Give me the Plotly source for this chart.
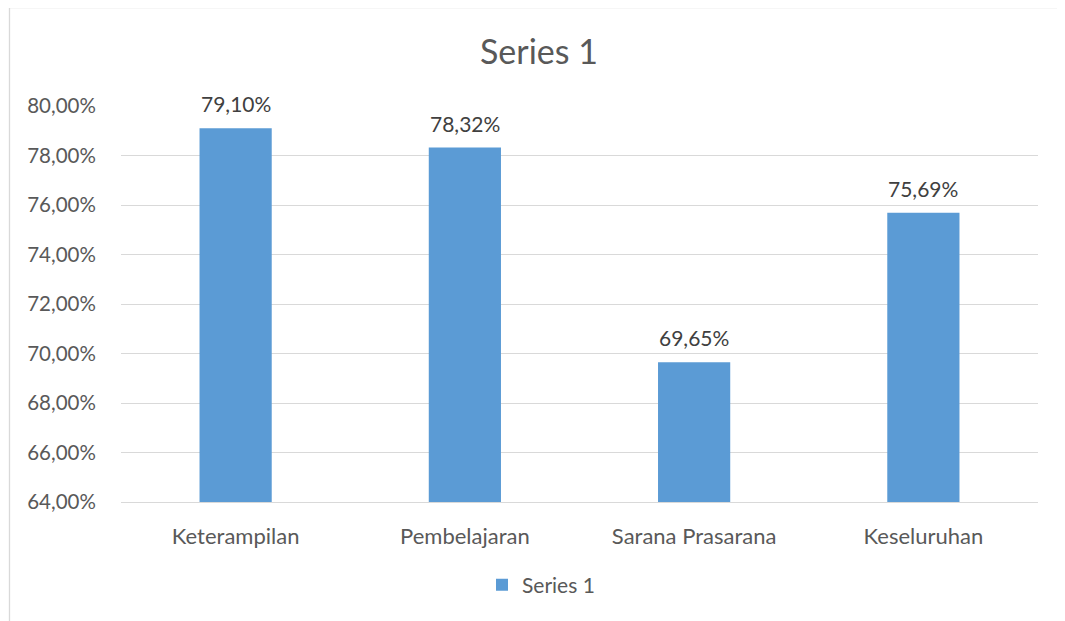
import plotly.graph_objects as go

categories = ["Keterampilan", "Pembelajaran", "Sarana Prasarana", "Keseluruhan"]
values = [0.7910, 0.7832, 0.6965, 0.7569]
series_name = "Series 1"

OFF = 8  # browser body margin
W, H = 1065 - OFF, 621 - OFF
L, T = 121 - OFF, 106 - OFF
R = W - (1038 - OFF)
B = H - (502 - OFF)
pw, ph = W - L - R, H - T - B

def px_x(p):
    return (p - OFF - L) / pw

def px_y(p):
    return (H - B - (p - OFF)) / ph

font_fam = "Lato, Open Sans, sans-serif"
txt = "#595959"

fig = go.Figure()
fig.add_trace(go.Bar(
    x=categories, y=values, name=series_name,
    marker=dict(color="#5b9bd5", line=dict(width=0)),
    width=0.315,
))

for c, v in zip(categories, values):
    fig.add_annotation(x=c, y=v, xref="x", yref="y",
                       text=f"{v * 100:.2f}%".replace(".", ","),
                       showarrow=False, yanchor="bottom", yshift=10,
                       font=dict(size=21, color="#404040", family=font_fam))

fig.update_layout(
    width=W, height=H,
    margin=dict(l=L, r=R, t=T, b=B),
    paper_bgcolor="white", plot_bgcolor="white",
    separators=",.",
    showlegend=True,
    title=dict(text=series_name, x=px_x(539), xanchor="center", xref="paper",
               y=1 - (52 - OFF) / H, yanchor="middle",
               font=dict(size=34, color=txt, family=font_fam)),
    legend=dict(orientation="h", x=px_x(482), xanchor="left", y=px_y(585), yanchor="middle",
                font=dict(size=21, color=txt, family=font_fam), itemwidth=30),
    font=dict(family=font_fam, color=txt),
)
fig.update_yaxes(range=[0.64, 0.80], tickvals=[0.64, 0.66, 0.68, 0.70, 0.72, 0.74, 0.76, 0.78, 0.80],
                 tickformat=".2%", showgrid=True, gridcolor="#d9d9d9", gridwidth=1.3,
                 zeroline=False, showline=False,
                 ticks="outside", ticklen=20, tickcolor="rgba(0,0,0,0)",
                 tickfont=dict(size=20.5, color=txt, family=font_fam))
fig.update_xaxes(showline=True, linecolor="#d9d9d9", linewidth=1.3,
                 ticks="outside", ticklen=14, tickcolor="rgba(0,0,0,0)",
                 tickfont=dict(size=22, color=txt, family=font_fam))

border = dict(color="#d9d9d9", width=1.3)
fig.add_shape(type="line", xref="paper", yref="paper",
              x0=px_x(9.5), x1=px_x(1080), y0=px_y(7.5), y1=px_y(7.5), line=border, layer="below")
fig.add_shape(type="line", xref="paper", yref="paper",
              x0=px_x(9.5), x1=px_x(9.5), y0=px_y(7.5), y1=px_y(640), line=border, layer="below")

fig.write_html("out.html")
